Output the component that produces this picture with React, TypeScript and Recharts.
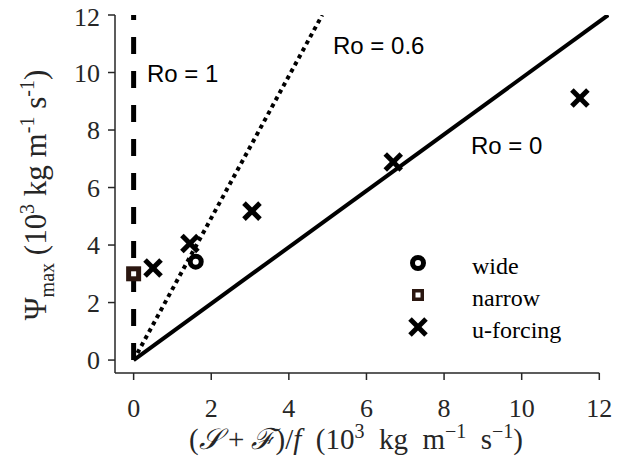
import { ScatterChart, Scatter, XAxis, YAxis, ReferenceLine, Customized } from 'recharts'

const xTicks = [0, 2, 4, 6, 8, 10, 12]
const yTicks = [0, 2, 4, 6, 8, 10, 12]

const wide = [{ x: 1.6, y: 3.42 }]
const narrow = [{ x: 0, y: 3.0 }]
const uForcing = [
  { x: 0.5, y: 3.2 },
  { x: 1.45, y: 4.05 },
  { x: 3.05, y: 5.18 },
  { x: 6.69, y: 6.89 },
  { x: 11.5, y: 9.11 },
]

// Rossby-number guide lines, drawn from the origin to the top of the box
const ro0 = [{ x: 0, y: 0 }, { x: 12.23, y: 12 }]
const ro06 = [{ x: 0, y: 0 }, { x: 4.86, y: 12 }]
const ro1 = [{ x: 0, y: 0 }, { x: 0, y: 12 }]

const AXIS = '#262626'
const SERIF = 'Liberation Serif, Times New Roman, serif'
const SANS = 'Liberation Sans, Arial, sans-serif'

function Cross({ cx, cy }: any) {
  const s = 8
  return (
    <g stroke="#000" strokeWidth={5}>
      <line x1={cx - s} y1={cy - s} x2={cx + s} y2={cy + s} />
      <line x1={cx - s} y1={cy + s} x2={cx + s} y2={cy - s} />
    </g>
  )
}

function Ring({ cx, cy }: any) {
  return <circle cx={cx} cy={cy} r={5.5} fill="#fff" stroke="#000" strokeWidth={5} />
}

function Box({ cx, cy, side }: any) {
  return (
    <g>
      <rect x={cx - side / 2} y={cy - side / 2} width={side} height={side} fill="#2b1710" />
      <rect x={cx - 2.5} y={cy - 2.5} width={5} height={5} fill="#fff" />
    </g>
  )
}

const noDot = () => <g />

function XTick({ x, y, payload }: any) {
  return (
    <text x={x} y={y} dy={37} textAnchor="middle" fontFamily={SERIF} fontSize={26} fill={AXIS}>
      {String(payload.value)}
    </text>
  )
}

function YTick({ x, y, payload }: any) {
  return (
    <text x={x} y={y} dy={9} textAnchor="end" fontFamily={SERIF} fontSize={26} fill={AXIS}>
      {String(payload.value)}
    </text>
  )
}

function Annotations() {
  return (
    <g>
      {/* Ro labels */}
      <g fontFamily={SANS} fontSize={24} fill="#000">
        <text x={139} y={74}>Ro = 1</text>
        <text x={325} y={46}>Ro = 0.6</text>
        <text x={463} y={146}>Ro = 0</text>
      </g>

      {/* legend */}
      <Ring cx={410} cy={255} />
      <Box cx={410} cy={287} side={12} />
      <Cross cx={410} cy={319} />
      <g fontFamily={SERIF} fontSize={24} fill="#000">
        <text x={464} y={266}>wide</text>
        <text x={464} y={298}>narrow</text>
        <text x={464} y={330}>u-forcing</text>
      </g>

      {/* axis titles */}
      <text
        x={348}
        y={441}
        textAnchor="middle"
        fontFamily={SERIF}
        fontSize={29}
        fill={AXIS}
        style={{ whiteSpace: 'pre' }}
      >
        <tspan>(</tspan>
        <tspan fontStyle="italic">𝒮</tspan>
        <tspan> + </tspan>
        <tspan fontStyle="italic">ℱ</tspan>
        <tspan>)/</tspan>
        <tspan fontStyle="italic">f</tspan>
        <tspan>  (10</tspan>
        <tspan fontSize={20} dy={-11}>3</tspan>
        <tspan dy={11}>  kg  m</tspan>
        <tspan fontSize={20} dy={-11}>−1</tspan>
        <tspan dy={11}>  s</tspan>
        <tspan fontSize={20} dy={-11}>−1</tspan>
        <tspan dy={11}>)</tspan>
      </text>
      <text
        x={38}
        y={187}
        textAnchor="middle"
        fontFamily={SERIF}
        fontSize={31}
        fill={AXIS}
        transform="rotate(-90 38 187)"
        style={{ whiteSpace: 'pre' }}
      >
        <tspan>Ψ</tspan>
        <tspan fontSize={20} dy={8}>max</tspan>
        <tspan dy={-8}> (10</tspan>
        <tspan fontSize={20} dy={-12}>3</tspan>
        <tspan dy={12}> kg m</tspan>
        <tspan fontSize={20} dy={-12}>-1</tspan>
        <tspan dy={12}> s</tspan>
        <tspan fontSize={20} dy={-12}>-1</tspan>
        <tspan dy={12}>)</tspan>
      </text>
    </g>
  )
}

export default function App() {
  return (
    <div>
      <style>{'.recharts-surface { overflow: visible; }'}</style>
      <ScatterChart width={624} height={449} margin={{ top: 7, right: 23, bottom: 0, left: 0 }}>
        <XAxis
          type="number"
          dataKey="x"
          domain={[-0.48, 12.25]}
          allowDataOverflow
          ticks={xTicks}
          axisLine={false}
          tickSize={7}
          tickMargin={0}
          tickLine={{ stroke: AXIS, strokeWidth: 1.5 }}
          tick={<XTick />}
          height={84}
        />
        <YAxis
          type="number"
          dataKey="y"
          domain={[-0.45, 12]}
          allowDataOverflow
          ticks={yTicks}
          axisLine={{ stroke: AXIS, strokeWidth: 1.5 }}
          tickSize={7}
          tickMargin={8}
          tickLine={{ stroke: AXIS, strokeWidth: 1.5 }}
          tick={<YTick />}
          width={107}
        />
        <ReferenceLine
          segment={[{ x: -0.48, y: -0.45 }, { x: 12, y: -0.45 }]}
          stroke={AXIS}
          strokeWidth={1.5}
        />
        <Scatter
          data={ro0}
          shape={noDot}
          line={{ stroke: '#000', strokeWidth: 4 }}
          isAnimationActive={false}
        />
        <Scatter
          data={ro06}
          shape={noDot}
          line={{ stroke: '#000', strokeWidth: 4, strokeDasharray: '4 4' }}
          isAnimationActive={false}
        />
        <Scatter
          data={ro1}
          shape={noDot}
          line={{ stroke: '#000', strokeWidth: 5, strokeDasharray: '17 17' }}
          isAnimationActive={false}
        />
        <Scatter data={narrow} shape={(p: any) => <Box cx={p.cx} cy={p.cy} side={15} />} isAnimationActive={false} />
        <Scatter data={wide} shape={(p: any) => <Ring cx={p.cx} cy={p.cy} />} isAnimationActive={false} />
        <Scatter data={uForcing} shape={(p: any) => <Cross cx={p.cx} cy={p.cy} />} isAnimationActive={false} />
        <Customized component={Annotations} />
      </ScatterChart>
    </div>
  )
}
